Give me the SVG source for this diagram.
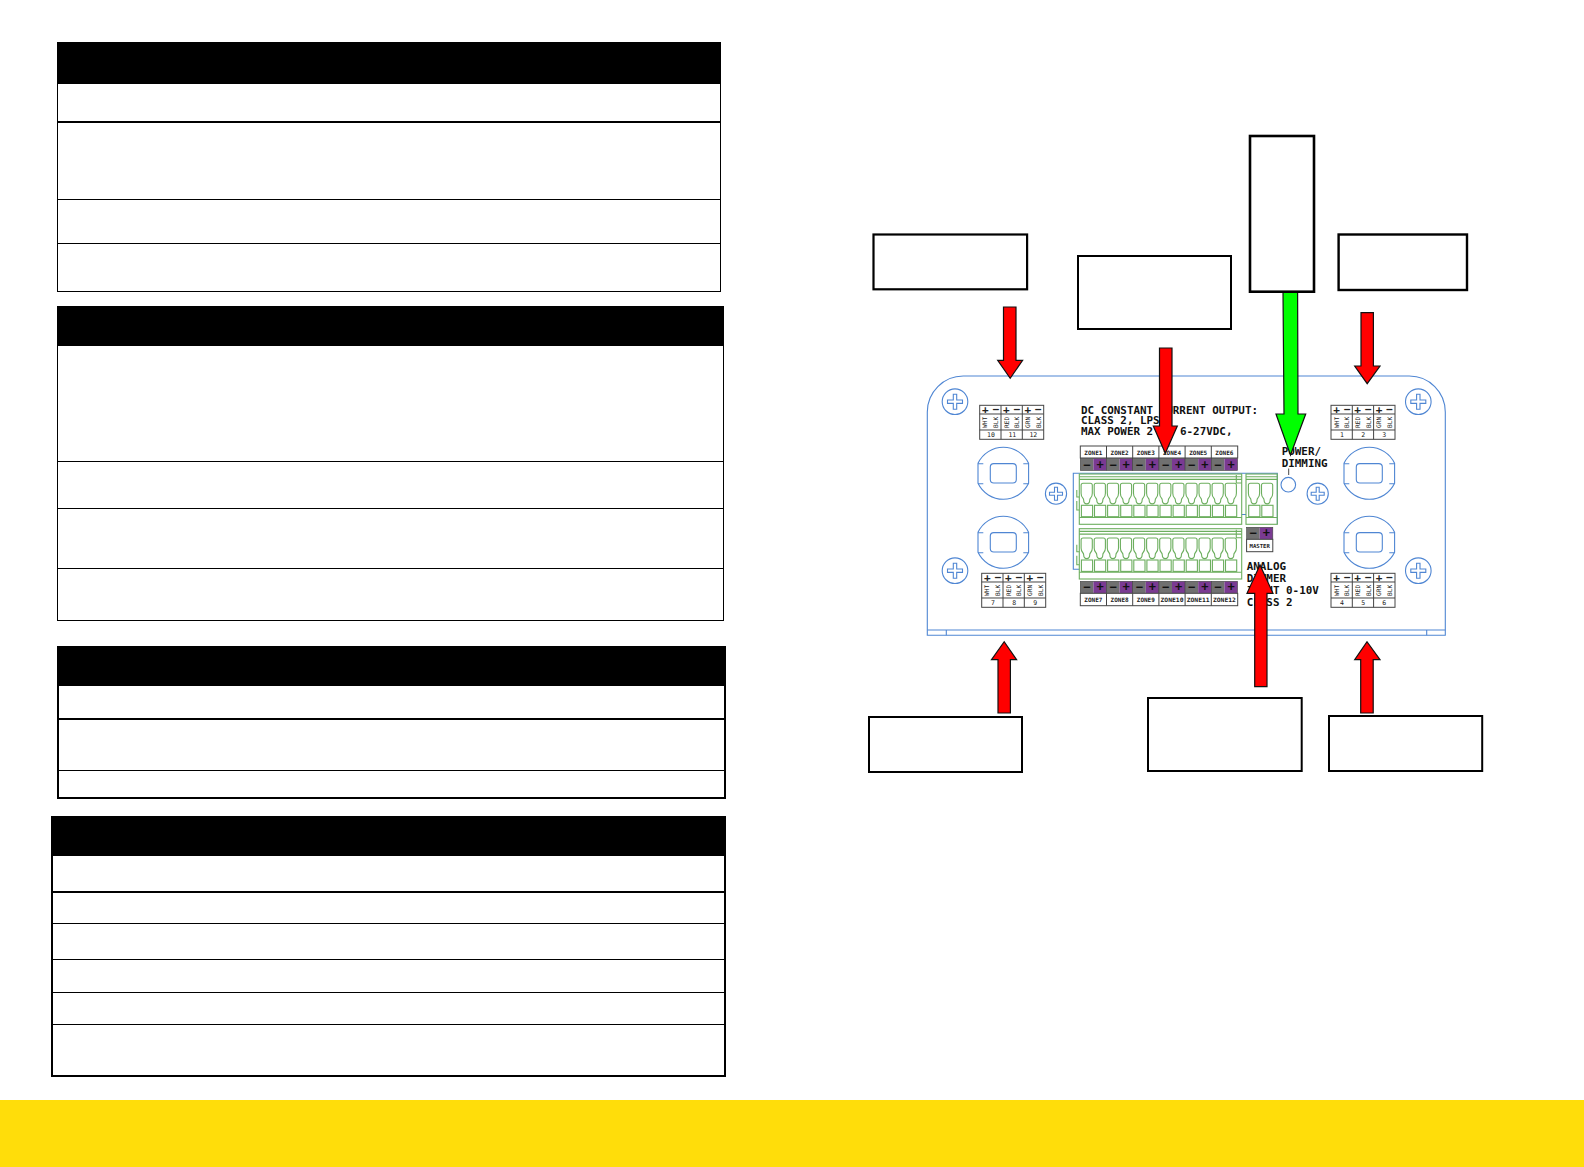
<svg xmlns="http://www.w3.org/2000/svg" width="1584" height="1167" viewBox="0 0 1584 1167">
<style>
.cell{fill:#fff;stroke:#000;stroke-width:1.2;shape-rendering:crispEdges}
.hd{fill:#000;shape-rendering:crispEdges}
.ln{stroke:#000;stroke-width:1.2;fill:none;shape-rendering:crispEdges}
.ln2{stroke:#000;stroke-width:2.2;fill:none;shape-rendering:crispEdges}
.box{fill:#fff;stroke:#000;stroke-width:2}
.box3{fill:#fff;stroke:#000;stroke-width:2.6}
.bl{fill:none;stroke:#4f86d3;stroke-width:1.1}
.gr{fill:none;stroke:#6cae5e;stroke-width:1.1}
.tb{fill:#fff;stroke:#444;stroke-width:1}
.gy{fill:#707070}
.pu{fill:#7a3a92}
.lbl{fill:#fff;stroke:#444;stroke-width:1}
.big{font:bold 10.9px "DejaVu Sans Mono",monospace;fill:#111}
.zn{font:bold 6px "DejaVu Sans Mono",monospace;fill:#222;text-anchor:middle}
.sg{font:bold 12px "DejaVu Sans Mono",monospace;fill:#111;text-anchor:middle}
.sg2{font:bold 11px "DejaVu Sans Mono",monospace;fill:#222;text-anchor:middle}
.num{font:6.5px "DejaVu Sans Mono",monospace;fill:#222;text-anchor:middle}
.rot{font:6.2px "DejaVu Sans Mono",monospace;fill:#222;text-anchor:middle}
.red{fill:#f00;stroke:#111;stroke-width:1.2}
.grn{fill:#0f0;stroke:#111;stroke-width:1.2}
</style>
<defs>
<g id="screw"><circle class="bl" r="12.8"/><path class="bl" d="M-1.7,-7.5V-1.7H-7.5V1.7H-1.7V7.5H1.7V1.7H7.5V-1.7H1.7V-7.5Z"/></g>
<g id="screwS"><circle class="bl" r="10.6"/><path class="bl" d="M-1.5,-6.5V-1.5H-6.5V1.5H-1.5V6.5H1.5V1.5H6.5V-1.5H1.5V-6.5Z"/></g>
<g id="round"><path class="bl" d="M-25.3,-10A28,28 0 0 1 25.3,-10V10A28,28 0 0 1 -25.3,10Z"/><path class="bl" d="M-25.3,-9.5H-20M25.3,-9.5H20M-25.3,10.5H-20M25.3,10.5H20"/><rect class="bl" x="-13" y="-9.7" width="26" height="19.4" rx="3.5"/></g>
<g id="pin"><path class="gr" d="M.4,2Q.4,0 2.4,0H9.6Q11.6,0 11.6,2V10Q11.6,13 10,14.5Q9,15.5 9,17Q9,20.6 6,20.6Q3,20.6 3,17Q3,15.5 2,14.5Q.4,13 .4,10Z"/><rect class="gr" x=".7" y="22" width="11.2" height="11.4"/></g>
<g id="row12"><use href="#pin"/><use href="#pin" x="13.1"/><use href="#pin" x="26.2"/><use href="#pin" x="39.3"/><use href="#pin" x="52.4"/><use href="#pin" x="65.5"/><use href="#pin" x="78.6"/><use href="#pin" x="91.7"/><use href="#pin" x="104.8"/><use href="#pin" x="117.9"/><use href="#pin" x="131"/><use href="#pin" x="144.1"/></g>
<g id="block"><rect class="gr" width="162.4" height="50.3"/><path class="gr" d="M0,2.7H162.4M0,5.4H162.4M0,43.5H162.4M157,1V9H162.4M157,5.5H162.4"/><path class="gr" d="M-2.5,16V23H0M-2.5,27V36H0"/><use href="#row12" x="1.4" y="9.3"/></g>
<g id="term"><rect class="tb" width="64" height="34"/><path class="tb" d="M0,8.7H64M0,24.7H64M21.3,0V34M42.6,0V34"/></g>
<g id="zoneSigns"><rect class="gy" width="13.1" height="12"/><rect class="pu" x="13.1" width="13.1" height="12"/><rect width="26.2" height="12" fill="none" stroke="#444" stroke-width=".6"/></g>
</defs>

<rect id="footer" x="0" y="1100" width="1584" height="67" fill="#ffdd0a"/>

<g id="table1">
<rect class="cell" x="57.7" y="43" width="663" height="248.4"/>
<rect class="hd" x="57.2" y="42.8" width="664" height="41"/>
<path class="ln" d="M57.7,122H720.7M57.7,199.6H720.7"/><path class="ln" d="M57.7,243.3H720.7"/>
</g>
<g id="table2">
<rect class="cell" x="57.7" y="306.5" width="665.6" height="313.9"/>
<rect class="hd" x="57.2" y="306" width="666.6" height="40"/>
<path class="ln" d="M57.7,461.2H723.3M57.7,508.6H723.3M57.7,568.6H723.3"/>
</g>
<g id="table3">
<rect class="cell" style="stroke-width:1.6" x="58" y="646.5" width="667.2" height="151.2"/>
<rect class="hd" x="57.2" y="646" width="668.8" height="39.8"/>
<path class="ln2" d="M58,718.7H725.2"/><path class="ln" style="stroke-width:1.5" d="M58,770.4H725.2"/>
</g>
<g id="table4">
<rect class="cell" style="stroke-width:1.6" x="52" y="816.8" width="673.2" height="259.4"/>
<rect class="hd" x="51.2" y="816.3" width="674.8" height="39.4"/>
<path class="ln2" d="M52,891.6H725.2"/><path class="ln" style="stroke-width:1.3" d="M52,923.5H725.2M52,959.5H725.2M52,992.3H725.2M52,1024.2H725.2"/>
</g>

<g id="panel">
<path class="bl" d="M927.3,412A36,36 0 0 1 963.3,376H1409.3A36,36 0 0 1 1445.3,412V635.3H927.3Z"/>
<path class="bl" d="M927.3,630H1445.3M946.3,630V635.3M1426.7,630V635.3"/>
<use href="#screw" x="955" y="401.7"/><use href="#screw" x="955" y="570.7"/><use href="#screw" x="1418.3" y="401.7"/><use href="#screw" x="1418.3" y="570.7"/>
<use href="#screwS" x="1056" y="493.7"/><use href="#screwS" x="1317.7" y="493.7"/>
<use href="#round" x="1003.3" y="473.3"/><use href="#round" x="1003.3" y="542.3"/><use href="#round" x="1369.3" y="473.3"/><use href="#round" x="1369.3" y="542.3"/>

<path class="bl" d="M1079.3,569.3H1073.3V473.3H1277.3V524.3M1241.7,514.5H1246"/>
<use href="#block" x="1079.3" y="474"/>
<use href="#block" x="1079.3" y="528.7"/>
<g id="masterBlock"><rect class="gr" x="1246" y="474" width="31.3" height="50.3"/><path class="gr" d="M1246,476.7H1277.3M1246,479.4H1277.3M1246,517.5H1277.3"/><use href="#pin" x="1248" y="483.3"/><use href="#pin" x="1261.1" y="483.3"/></g>

<g id="zonesTop">
<rect class="lbl" x="1080.3" y="446" width="157.4" height="12"/>
<path class="lbl" d="M1106.5,446V458M1132.7,446V458M1158.9,446V458M1185.1,446V458M1211.3,446V458"/>
<use href="#zoneSigns" x="1080.3" y="458.5"/><use href="#zoneSigns" x="1106.5" y="458.5"/><use href="#zoneSigns" x="1132.7" y="458.5"/><use href="#zoneSigns" x="1158.9" y="458.5"/><use href="#zoneSigns" x="1185.1" y="458.5"/><use href="#zoneSigns" x="1211.3" y="458.5"/>
<text class="zn" y="454.5" x="1093.4">ZONE1</text><text class="zn" y="454.5" x="1119.6">ZONE2</text><text class="zn" y="454.5" x="1145.8">ZONE3</text><text class="zn" y="454.5" x="1172">ZONE4</text><text class="zn" y="454.5" x="1198.2">ZONE5</text><text class="zn" y="454.5" x="1224.4">ZONE6</text>
<text class="sg" y="468.5" x="1086.9 1100 1113.1 1126.2 1139.3 1152.4 1165.5 1178.6 1191.7 1204.8 1217.9 1231">−+−+−+−+−+−+</text>
</g>
<g id="zonesBottom">
<use href="#zoneSigns" x="1080.3" y="581.3"/><use href="#zoneSigns" x="1106.5" y="581.3"/><use href="#zoneSigns" x="1132.7" y="581.3"/><use href="#zoneSigns" x="1158.9" y="581.3"/><use href="#zoneSigns" x="1185.1" y="581.3"/><use href="#zoneSigns" x="1211.3" y="581.3"/>
<rect class="lbl" x="1080.3" y="593.3" width="157.4" height="12.4"/>
<path class="lbl" d="M1106.5,593.3V605.7M1132.7,593.3V605.7M1158.9,593.3V605.7M1185.1,593.3V605.7M1211.3,593.3V605.7"/>
<text class="zn" y="602" x="1093.4">ZONE7</text><text class="zn" y="602" x="1119.6">ZONE8</text><text class="zn" y="602" x="1145.8">ZONE9</text><text class="zn" y="602" x="1172" textLength="23" lengthAdjust="spacingAndGlyphs">ZONE10</text><text class="zn" y="602" x="1198.2" textLength="23" lengthAdjust="spacingAndGlyphs">ZONE11</text><text class="zn" y="602" x="1224.4" textLength="23" lengthAdjust="spacingAndGlyphs">ZONE12</text>
<text class="sg" y="591.4" x="1086.9 1100 1113.1 1126.2 1139.3 1152.4 1165.5 1178.6 1191.7 1204.8 1217.9 1231">−+−+−+−+−+−+</text>
</g>
<g id="master">
<use href="#zoneSigns" x="1246.6" y="527.3"/>
<rect class="lbl" x="1246.6" y="539.3" width="26.2" height="12.4"/>
<text class="zn" style="font-size:5.6px" y="548" x="1259.7">MASTER</text>
<text class="sg" y="537.4" x="1253.2 1266.3">−+</text>
</g>

<circle class="bl" cx="1288.3" cy="484.7" r="7.3"/>
<path d="M1288.7,468.5V475" stroke="#333" stroke-width=".9"/>

<g id="term10"><use href="#term" x="979.7" y="405.3"/>
<text class="sg2" y="413" x="985.3 996 1006.3 1017 1027.7 1038.3">+−+−+−</text>
<text class="num" y="437" x="991">10</text><text class="num" y="437" x="1012.3">11</text><text class="num" y="437" x="1033.3">12</text>
<text class="rot" transform="translate(987.3,422.3) rotate(-90)">WHT</text><text class="rot" transform="translate(998,422.3) rotate(-90)">BLK</text><text class="rot" transform="translate(1008.6,422.3) rotate(-90)">RED</text><text class="rot" transform="translate(1019.3,422.3) rotate(-90)">BLK</text><text class="rot" transform="translate(1030,422.3) rotate(-90)">GRN</text><text class="rot" transform="translate(1040.6,422.3) rotate(-90)">BLK</text>
</g>
<g id="term7"><use href="#term" x="981.7" y="573.3"/>
<text class="sg2" y="581" x="987.3 998 1008.3 1019 1029.7 1040.3">+−+−+−</text>
<text class="num" y="605" x="993">7</text><text class="num" y="605" x="1014.3">8</text><text class="num" y="605" x="1035.3">9</text>
<text class="rot" transform="translate(989.3,590.3) rotate(-90)">WHT</text><text class="rot" transform="translate(1000,590.3) rotate(-90)">BLK</text><text class="rot" transform="translate(1010.6,590.3) rotate(-90)">RED</text><text class="rot" transform="translate(1021.3,590.3) rotate(-90)">BLK</text><text class="rot" transform="translate(1032,590.3) rotate(-90)">GRN</text><text class="rot" transform="translate(1042.6,590.3) rotate(-90)">BLK</text>
</g>
<g id="term1"><use href="#term" x="1331" y="405.3"/>
<text class="sg2" y="413" x="1336.6 1347.3 1357.6 1368.3 1379 1389.6">+−+−+−</text>
<text class="num" y="437" x="1342">1</text><text class="num" y="437" x="1363.3">2</text><text class="num" y="437" x="1384.3">3</text>
<text class="rot" transform="translate(1338.6,422.3) rotate(-90)">WHT</text><text class="rot" transform="translate(1349.3,422.3) rotate(-90)">BLK</text><text class="rot" transform="translate(1359.9,422.3) rotate(-90)">RED</text><text class="rot" transform="translate(1370.6,422.3) rotate(-90)">BLK</text><text class="rot" transform="translate(1381.3,422.3) rotate(-90)">GRN</text><text class="rot" transform="translate(1391.9,422.3) rotate(-90)">BLK</text>
</g>
<g id="term4"><use href="#term" x="1331" y="573.3"/>
<text class="sg2" y="581" x="1336.6 1347.3 1357.6 1368.3 1379 1389.6">+−+−+−</text>
<text class="num" y="605" x="1342">4</text><text class="num" y="605" x="1363.3">5</text><text class="num" y="605" x="1384.3">6</text>
<text class="rot" transform="translate(1338.6,590.3) rotate(-90)">WHT</text><text class="rot" transform="translate(1349.3,590.3) rotate(-90)">BLK</text><text class="rot" transform="translate(1359.9,590.3) rotate(-90)">RED</text><text class="rot" transform="translate(1370.6,590.3) rotate(-90)">BLK</text><text class="rot" transform="translate(1381.3,590.3) rotate(-90)">GRN</text><text class="rot" transform="translate(1391.9,590.3) rotate(-90)">BLK</text>
</g>

<text class="big" x="1081" y="413.8">DC CONSTANT CURRENT OUTPUT:</text>
<text class="big" x="1081" y="424.2">CLASS 2, LPS</text>
<text class="big" x="1081" y="434.8">MAX POWER 2</text>
<text class="big" x="1180" y="434.8">6-27VDC,</text>
<text class="big" x="1281.7" y="455">POWER/</text>
<text class="big" x="1281.7" y="467">DIMMING</text>
<text class="big" x="1246.7" y="569.5">ANALOG</text>
<text class="big" x="1246.7" y="581.5">DIMMER</text>
<text class="big" x="1246.7" y="593.5">INPUT 0-10V</text>
<text class="big" x="1246.7" y="605.5">CLASS 2</text>
</g>

<g id="box-a"><rect class="box" x="873.5" y="234.5" width="153.6" height="54.8" style="stroke-width:2.2"/></g>
<g id="box-b"><rect class="box" x="1078" y="256" width="153" height="73"/></g>
<g id="box-d"><rect class="box" x="1338.6" y="234.5" width="128.4" height="55.5" style="stroke-width:2.4"/></g>
<g id="box-e"><rect class="box" x="869" y="717" width="153" height="55"/></g>
<g id="box-f"><rect class="box" x="1148" y="698" width="153.7" height="73"/></g>
<g id="box-g"><rect class="box" x="1329" y="716" width="153.2" height="55"/></g>

<g id="connectors">
<polygon class="red" points="1003.5,307 1016,307 1016,360.3 1022.6,360.3 1010.2,378.3 997.7,360.3 1003.5,360.3"/>
<polygon class="red" points="1159.5,348 1172,348 1172,426 1177.3,426 1165.3,453.3 1153.3,426 1159.5,426"/>
<polygon class="grn" points="1283,292 1297.6,292 1298,414 1305.7,414 1290.5,455 1276,414 1284,414"/>
<polygon class="red" points="1361,312.7 1373.4,312.7 1373.4,366 1380,366 1367.2,383.7 1354.7,366 1361,366"/>
<polygon class="red" points="998,713 1010.4,713 1010.4,659.7 1016.6,659.7 1004.2,641.7 991.5,659.7 998,659.7"/>
<polygon class="red" points="1360.7,713 1373.2,713 1373.2,659.7 1380,659.7 1367,641.7 1354.7,659.7 1360.7,659.7"/>
<polygon class="red" points="1254.7,686.7 1267,686.7 1267,593.3 1273,593.3 1260,565 1247,593.3 1254.7,593.3"/>
</g>
<g id="box-c"><rect class="box3" x="1250" y="136" width="64" height="155.7"/></g>
</svg>
